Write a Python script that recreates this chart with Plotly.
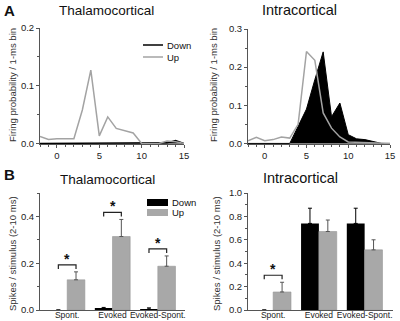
import plotly.graph_objects as go

# ---------------- data ----------------
bins = list(range(-2, 16))
tc_up = [0.012, 0.007, 0.008, 0.008, 0.008, 0.058, 0.127, 0.013, 0.046, 0.026, 0.022, 0.018,
         0.0, 0.0, 0.0, 0.004, 0.003, 0.0]
tc_down = [0, 0, 0, 0, 0, 0, 0, 0, 0, 0, 0, 0, 0, 0, 0, 0.001, 0.005, 0.0]
ic_up = [0.007, 0.016, 0.007, 0.010, 0.017, 0.014, 0.050, 0.241, 0.218, 0.080, 0.040, 0.017,
         0.004, 0.003, 0.002, 0.001, 0.0, 0.0]
ic_down = [0, 0, 0, 0, 0, 0, 0.045, 0.090, 0.167, 0.240, 0.070, 0.106, 0.023, 0.012, 0.010,
           0.006, 0.0, 0.0]

categories = ["Spont.", "Evoked", "Evoked-Spont."]
tcb_down = [0.0, 0.005, 0.004]
tcb_down_err = [0.0, 0.006, 0.005]
tcb_up = [0.129, 0.314, 0.187]
tcb_up_err = [0.034, 0.073, 0.044]
tcb_sig = [True, True, True]

icb_down = [0.0, 0.740, 0.740]
icb_down_err = [0.0, 0.130, 0.130]
icb_up = [0.154, 0.671, 0.514]
icb_up_err = [0.083, 0.098, 0.086]
icb_sig = [True, False, False]

GRAY_LINE = "#a3a3a3"
GRAY_BAR = "#a8a8a8"
AXC = "#555555"
FONT = "Liberation Sans, Arial, Helvetica, sans-serif"

fig = go.Figure()

# ---------------- top panels (PSTH) ----------------
fig.add_trace(go.Scatter(x=bins, y=tc_down, mode="lines", line=dict(color="black", width=1.5),
                         fill="tozeroy", fillcolor="black", xaxis="x", yaxis="y", showlegend=False))
fig.add_trace(go.Scatter(x=bins, y=tc_up, mode="lines", line=dict(color=GRAY_LINE, width=1.5),
                         xaxis="x", yaxis="y", showlegend=False))
fig.add_trace(go.Scatter(x=bins, y=ic_down, mode="lines", line=dict(color="black", width=1),
                         fill="tozeroy", fillcolor="black", xaxis="x2", yaxis="y2", showlegend=False))
fig.add_trace(go.Scatter(x=bins, y=ic_up, mode="lines", line=dict(color=GRAY_LINE, width=1.5),
                         xaxis="x2", yaxis="y2", showlegend=False))

# ---------------- bottom panels (bars) ----------------
xpos = list(range(len(categories)))
BW = 0.39
OFF = 0.195


def add_bars(xa, ya, down, down_err, up, up_err):
    fig.add_trace(go.Bar(x=[p - OFF for p in xpos], y=down, width=BW, marker=dict(color="black", line=dict(width=0)),
                         error_y=dict(type="data", array=down_err, arrayminus=[0] * len(down), symmetric=False,
                                      color="black", thickness=1, width=2),
                         xaxis=xa, yaxis=ya, showlegend=False))
    fig.add_trace(go.Bar(x=[p + OFF for p in xpos], y=up, width=BW,
                         marker=dict(color=GRAY_BAR, line=dict(color="#979797", width=0.6)),
                         error_y=dict(type="data", array=up_err, arrayminus=[0] * len(up), symmetric=False,
                                      color="#555555", thickness=1, width=2),
                         xaxis=xa, yaxis=ya, showlegend=False))


add_bars("x3", "y3", tcb_down, tcb_down_err, tcb_up, tcb_up_err)
add_bars("x4", "y4", icb_down, icb_down_err, icb_up, icb_up_err)

shapes = []
annotations = []


def add_sig(xa, ya, up, up_err, down, down_err, sig, yrange):
    for i, s in enumerate(sig):
        if not s:
            continue
        top = max(up[i] + up_err[i], down[i] + down_err[i])
        yb = top + 0.06 * yrange
        tick = 0.035 * yrange
        x0, x1 = xpos[i] - OFF, xpos[i] + OFF
        shapes.append(dict(type="path", xref=xa, yref=ya,
                           path=f"M {x0},{yb - tick} L {x0},{yb} L {x1},{yb} L {x1},{yb - tick}",
                           line=dict(color="#222222", width=1.2)))
        annotations.append(dict(x=xpos[i], y=yb, xref=xa, yref=ya, text="<b>*</b>", showarrow=False,
                                yanchor="bottom", yshift=-4, font=dict(size=14, color="#111111", family=FONT)))


add_sig("x3", "y3", tcb_up, tcb_up_err, tcb_down, tcb_down_err, tcb_sig, 0.5)
add_sig("x4", "y4", icb_up, icb_up_err, icb_down, icb_down_err, icb_sig, 1.0)

# ---------------- axes ----------------
tickfont = dict(size=9.5, color="#222222", family=FONT)
catfont = dict(size=8.5, color="#222222", family=FONT)
common = dict(showgrid=False, zeroline=False, showline=True, linecolor=AXC, linewidth=1,
              ticks="outside", ticklen=3, tickcolor=AXC, tickfont=tickfont, automargin=False)

W, H = 400, 321


def dx(a, b):
    return [a / W, b / W]


def dy(top, bottom):
    return [1 - bottom / H, 1 - top / H]


layout_axes = dict(
    xaxis=dict(domain=dx(40, 184), range=[-2, 15], tickvals=[0, 5, 10, 15], anchor="y",
               minor=dict(dtick=1, tick0=0, ticks="outside", ticklen=2, tickcolor=AXC), **common),
    yaxis=dict(domain=dy(28, 144), range=[-0.001, 0.2], tickvals=[0, 0.1, 0.2], tickformat=".1f", anchor="x",
               minor=dict(dtick=0.05, tick0=0, ticks="outside", ticklen=2, tickcolor=AXC), **common),
    xaxis2=dict(domain=dx(248, 390), range=[-2, 15], tickvals=[0, 5, 10, 15], anchor="y2",
                minor=dict(dtick=1, tick0=0, ticks="outside", ticklen=2, tickcolor=AXC), **common),
    yaxis2=dict(domain=dy(29, 144), range=[-0.0015, 0.3], tickvals=[0, 0.1, 0.2, 0.3], tickformat=".1f",
                anchor="x2", minor=dict(dtick=0.05, tick0=0, ticks="outside", ticklen=2, tickcolor=AXC), **common),
    xaxis3=dict(domain=dx(40, 185), range=[-0.6, 2.6], tickvals=xpos, ticktext=categories, anchor="y3",
                showgrid=False, zeroline=False, showline=True, linecolor=AXC, linewidth=1, ticks="",
                tickangle=0, tickfont=catfont, ticklabelstandoff=-3, automargin=False),
    yaxis3=dict(domain=dy(193, 310), range=[0, 0.5], tickvals=[0, 0.2, 0.4], tickformat=".1f", anchor="x3",
                minor=dict(dtick=0.1, tick0=0, ticks="outside", ticklen=2, tickcolor=AXC), **common),
    xaxis4=dict(domain=dx(248, 393), range=[-0.55, 2.62], tickvals=xpos, ticktext=categories, anchor="y4",
                showgrid=False, zeroline=False, showline=True, linecolor=AXC, linewidth=1, ticks="",
                tickangle=0, tickfont=catfont, ticklabelstandoff=-3, automargin=False),
    yaxis4=dict(domain=dy(193, 310), range=[0, 1.0], tickvals=[0, 0.2, 0.4, 0.6, 0.8, 1.0], tickformat=".1f",
                anchor="x4", minor=dict(dtick=0.1, tick0=0, ticks="outside", ticklen=2, tickcolor=AXC), **common),
)


def pa(text, x, y, size, angle=0, bold=False, xanchor="center", yanchor="middle", color="#111111"):
    annotations.append(dict(text=f"<b>{text}</b>" if bold else text, x=x / W, y=1 - y / H, xref="paper",
                            yref="paper", showarrow=False, textangle=angle, xanchor=xanchor, yanchor=yanchor,
                            font=dict(size=size, color=color, family=FONT)))


# titles and panel letters
pa("A", 2, 10, 15, bold=True, xanchor="left")
pa("B", 2, 175, 15, bold=True, xanchor="left")
pa("Thalamocortical", 106, 10, 13.5)
pa("Intracortical", 299, 10, 14.5)
pa("Thalamocortical", 107, 180, 13.5)
pa("Intracortical", 300, 178, 14.5)

# y-axis titles
pa("Firing probability / 1-ms bin", 13, 85, 9.5, angle=-90, color="#333333")
pa("Firing probability / 1-ms bin", 214, 85, 9.5, angle=-90, color="#333333")
pa("Spikes / stimulus (2-10 ms)", 12, 254, 9.5, angle=-90, color="#333333")
pa("Spikes / stimulus (2-10 ms)", 216, 254, 9.5, angle=-90, color="#333333")

# legends (top-left: lines; bottom-left: boxes)
shapes.append(dict(type="line", xref="paper", yref="paper", x0=143 / W, x1=163 / W, y0=1 - 45 / H, y1=1 - 45 / H,
                   line=dict(color="black", width=1.5)))
shapes.append(dict(type="line", xref="paper", yref="paper", x0=143 / W, x1=163 / W, y0=1 - 57 / H, y1=1 - 57 / H,
                   line=dict(color=GRAY_LINE, width=1.5)))
pa("Down", 165, 45, 9.5, xanchor="left")
pa("Up", 165, 57, 9.5, xanchor="left")

shapes.append(dict(type="rect", xref="paper", yref="paper", x0=147 / W, x1=168 / W, y0=1 - 206 / H, y1=1 - 199 / H,
                   fillcolor="black", line=dict(width=0)))
shapes.append(dict(type="rect", xref="paper", yref="paper", x0=147 / W, x1=168 / W, y0=1 - 216 / H, y1=1 - 209 / H,
                   fillcolor=GRAY_BAR, line=dict(width=0)))
pa("Down", 170, 202.5, 9.5, xanchor="left")
pa("Up", 170, 212.5, 9.5, xanchor="left")

fig.update_layout(
    width=W, height=H, margin=dict(l=0, r=0, t=0, b=0, autoexpand=False),
    paper_bgcolor="white", plot_bgcolor="white",
    barmode="overlay", showlegend=False,
    font=dict(family=FONT),
    shapes=shapes, annotations=annotations,
    **layout_axes,
)

fig.write_html("out.html", config={"displayModeBar": False},
               post_script="document.body.style.margin='0px';document.body.style.padding='0px';")
